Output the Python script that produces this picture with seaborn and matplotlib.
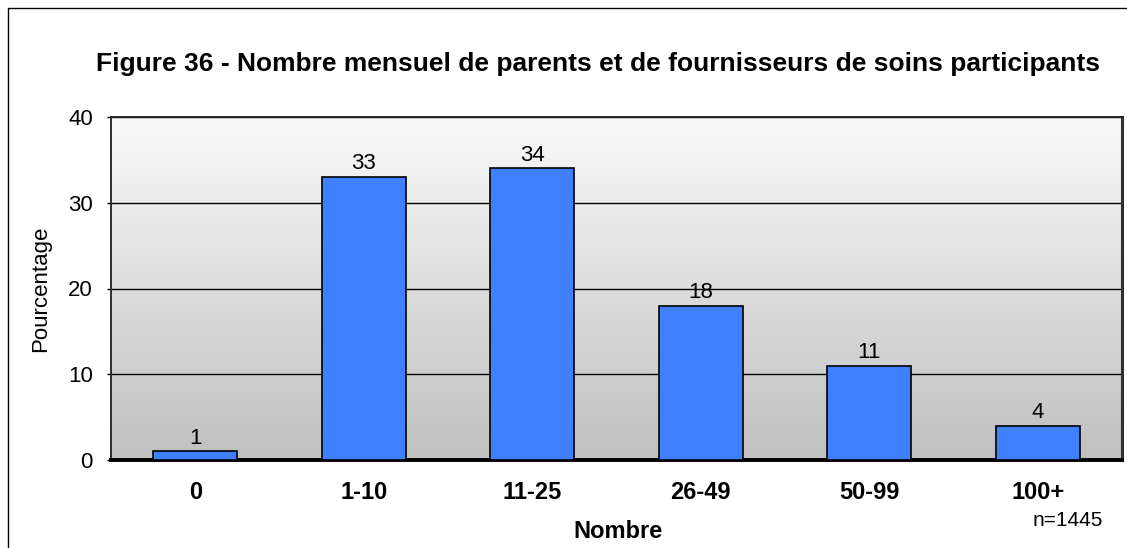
import numpy as np
import pandas as pd
import matplotlib
matplotlib.use("Agg")
import matplotlib.pyplot as plt
import seaborn as sns
from matplotlib.patches import Rectangle
from matplotlib.colors import LinearSegmentedColormap

categories = ["0", "1-10", "11-25", "26-49", "50-99", "100+"]
percentages = [1, 33, 34, 18, 11, 4]
y_ticks = [0, 10, 20, 30, 40]

title = "Figure 36 - Nombre mensuel de parents et de fournisseurs de soins participants"
x_label = "Nombre"
y_label = "Pourcentage"
note = "n=1445"

sns.set_theme(style="white")
plt.rcParams["font.family"] = ["Liberation Sans", "DejaVu Sans"]
plt.rcParams["text.color"] = "black"
plt.rcParams["axes.labelcolor"] = "black"
plt.rcParams["xtick.color"] = "black"
plt.rcParams["ytick.color"] = "black"

df = pd.DataFrame({"Nombre": categories, "Pourcentage": percentages})

W, H = 1127, 548
fig = plt.figure(figsize=(W / 100, H / 100), dpi=100)
ax = fig.add_axes([111 / W, 1 - 460 / H, (1122 - 111) / W, (460 - 117) / H])

# vertical grey gradient behind the bars (white at the top, grey at the bottom)
grad = np.linspace(0.0, 1.0, 256).reshape(-1, 1)
bg_cmap = LinearSegmentedColormap.from_list("bg", ["#fafafa", "#c0c0c0"])
ax.imshow(grad, extent=[-0.5, len(categories) - 0.5, 0, 40], aspect="auto",
          cmap=bg_cmap, origin="upper", zorder=0)

sns.barplot(data=df, x="Nombre", y="Pourcentage", color="#4080ff",
            saturation=1, width=0.5, edgecolor="black", linewidth=1.2,
            ax=ax, zorder=3)

ax.set_xlim(-0.5, len(categories) - 0.5)
ax.set_ylim(0, 40)
ax.set_yticks(y_ticks)
ax.yaxis.grid(True, color="black", linewidth=1.0)
for gl in ax.get_ygridlines():
    gl.set_zorder(1)

for spine in ["left", "top"]:
    ax.spines[spine].set_color("#202020")
    ax.spines[spine].set_linewidth(1.3)
ax.spines["right"].set_color("#303030")
ax.spines["right"].set_linewidth(2.2)
ax.spines["bottom"].set_color("black")
ax.spines["bottom"].set_linewidth(2.8)

ax.tick_params(axis="y", left=True, length=3, width=1, color="black",
               labelsize=16, pad=10)
ax.tick_params(axis="x", bottom=False, labelsize=17, pad=9)
for lbl in ax.get_xticklabels():
    lbl.set_fontweight("bold")

ax.set_xlabel("")
ax.set_ylabel(y_label, fontsize=16, labelpad=12)

for container in ax.containers:
    ax.bar_label(container, labels=[str(v) for v in percentages],
                 fontsize=16, padding=2)

fig.text(598 / W, 1 - 64 / H, title, ha="center", va="center", fontsize=19,
         fontweight="bold")
fig.text(618 / W, 1 - 532 / H, x_label, ha="center", va="center",
         fontsize=17, fontweight="bold")
fig.text(1068 / W, 1 - 521 / H, note, ha="center", va="center", fontsize=15)

# frame around the whole chart
fig.patches.append(Rectangle((8 / W, -0.1), 1.2, 1.1 - 8 / H,
                             transform=fig.transFigure, fill=False,
                             edgecolor="black", linewidth=1.0))

fig.savefig("out.png", dpi=100)
